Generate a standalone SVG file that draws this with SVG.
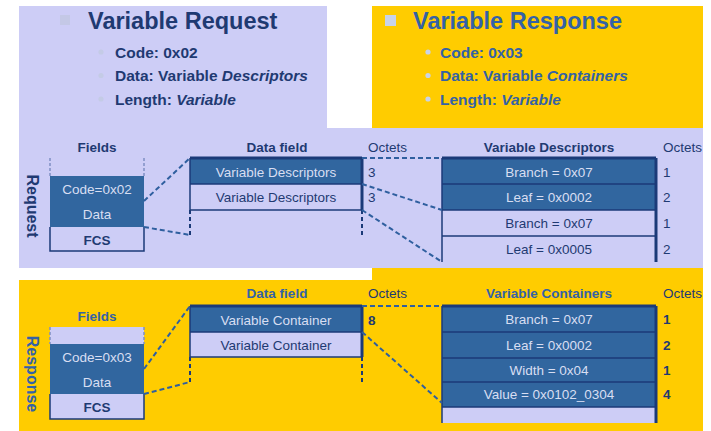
<svg xmlns="http://www.w3.org/2000/svg" width="711" height="431" viewBox="0 0 711 431">
  <style>
    text { font-family: "Liberation Sans", Arial, sans-serif; }
    .title { font-size: 23.5px; font-weight: bold; }
    .bul { font-size: 15.5px; font-weight: bold; }
    .hdr { font-size: 13.5px; font-weight: bold; text-anchor: middle; }
    .oct { font-size: 13.5px; }
    .cell { font-size: 13.5px; text-anchor: middle; }
    .side { font-size: 16px; font-weight: bold; text-anchor: middle; }
    .navy { fill: #1f3a72; }
    .mid { fill: #3462a6; }
    .lite { fill: #d8def2; }
    .dark { fill: #31669f; }
    .lav { fill: #cdcdf6; }
    .edge { stroke: #1b3a78; stroke-width: 1.5; fill: none; }
    .thick { stroke: #1b3a78; stroke-width: 3; fill: none; }
    .dash { stroke: #1b3a78; stroke-width: 2; stroke-dasharray: 4 3; fill: none; }
    .sdash { stroke: #7f8fc4; stroke-width: 1.5; stroke-dasharray: 3 2; fill: none; }
    .conn { stroke: #2f5f9f; stroke-width: 2; stroke-dasharray: 5 3; fill: none; }
  </style>

  <!-- backgrounds -->
  <rect x="0" y="0" width="711" height="431" fill="#ffffff"/>
  <rect x="372" y="6" width="331" height="425" fill="#ffcc00"/>
  <rect x="19" y="280" width="684" height="151" fill="#ffcc00"/>
  <rect x="19" y="6" width="308" height="122" class="lav"/>
  <rect x="19" y="128" width="684" height="140" class="lav"/>

  <!-- request summary -->
  <g id="request-summary">
    <rect x="60" y="15" width="10" height="10" fill="#c4c8e6"/>
    <text x="88" y="28.5" class="title navy">Variable Request</text>
    <circle cx="101" cy="52" r="2.6" fill="#c4cbe6"/>
    <circle cx="101" cy="75.5" r="2.6" fill="#c4cbe6"/>
    <circle cx="101" cy="99" r="2.6" fill="#c4cbe6"/>
    <text x="115" y="57.5" class="bul navy">Code: 0x02</text>
    <text x="115" y="81" class="bul navy">Data: Variable <tspan font-style="italic">Descriptors</tspan></text>
    <text x="115" y="104.5" class="bul navy">Length: <tspan font-style="italic">Variable</tspan></text>
  </g>

  <!-- response summary -->
  <g id="response-summary">
    <rect x="385" y="15" width="11" height="11" fill="#c8d3ea"/>
    <text x="413" y="28.5" class="title mid">Variable Response</text>
    <circle cx="428" cy="52" r="2.6" fill="#c8d3ea"/>
    <circle cx="428" cy="75.5" r="2.6" fill="#c8d3ea"/>
    <circle cx="428" cy="99" r="2.6" fill="#c8d3ea"/>
    <text x="440" y="57.5" class="bul mid">Code: 0x03</text>
    <text x="440" y="81" class="bul mid">Data: Variable <tspan font-style="italic">Containers</tspan></text>
    <text x="440" y="104.5" class="bul mid">Length: <tspan font-style="italic">Variable</tspan></text>
  </g>

  <!-- request frame -->
  <g id="request-fields">
    <text x="32" y="206" class="side navy" transform="rotate(90 32 206)" dy="5.5">Request</text>
    <text x="97" y="152" class="hdr navy">Fields</text>
    <line x1="50" y1="158" x2="50" y2="176" class="sdash"/>
    <line x1="144" y1="158" x2="144" y2="176" class="sdash"/>
    <rect x="50" y="176" width="94" height="51" class="dark"/>
    <rect x="50" y="227" width="94" height="24" class="lav"/>
    <path d="M50 227 V251 H144 V227" class="edge"/>
    <text x="97" y="194" class="cell lite">Code=0x02</text>
    <text x="97" y="219" class="cell lite">Data</text>
    <text x="97" y="245" class="cell navy" font-weight="bold">FCS</text>
  </g>

  <g id="request-data-field">
    <text x="277" y="152" class="hdr navy">Data field</text>
    <rect x="190" y="158" width="172" height="26" class="dark"/>
    <line x1="190" y1="184" x2="362" y2="184" class="edge"/>
    <line x1="190" y1="210" x2="362" y2="210" class="edge"/>
    <line x1="190" y1="158" x2="362" y2="158" class="thick"/>
    <line x1="190" y1="158" x2="190" y2="210" class="edge"/>
    <line x1="362" y1="158" x2="362" y2="210" class="thick"/>
    <line x1="190" y1="210" x2="190" y2="235" class="dash"/>
    <line x1="362" y1="210" x2="362" y2="235" class="dash"/>
    <text x="276" y="176.5" class="cell lite">Variable Descriptors</text>
    <text x="276" y="202" class="cell navy">Variable Descriptors</text>
    <text x="368" y="152" class="oct navy">Octets</text>
    <text x="368" y="176.5" class="oct navy">3</text>
    <text x="368" y="202" class="oct navy">3</text>
  </g>

  <g id="request-descriptors">
    <text x="549" y="152" class="hdr navy">Variable Descriptors</text>
    <rect x="442" y="158" width="214" height="52" class="dark"/>
    <line x1="442" y1="184" x2="656" y2="184" class="edge"/>
    <line x1="442" y1="210" x2="656" y2="210" class="edge"/>
    <line x1="442" y1="236" x2="656" y2="236" class="edge"/>
    <line x1="442" y1="158" x2="656" y2="158" class="thick"/>
    <line x1="442" y1="158" x2="442" y2="262" class="edge"/>
    <line x1="656" y1="158" x2="656" y2="262" class="thick"/>
    <text x="549" y="176.5" class="cell lite">Branch = 0x07</text>
    <text x="549" y="202" class="cell lite">Leaf = 0x0002</text>
    <text x="549" y="228" class="cell navy">Branch = 0x07</text>
    <text x="549" y="254" class="cell navy">Leaf = 0x0005</text>
    <text x="663" y="152" class="oct navy">Octets</text>
    <text x="663" y="176.5" class="oct navy">1</text>
    <text x="663" y="202" class="oct navy">2</text>
    <text x="663" y="228" class="oct navy">1</text>
    <text x="663" y="254" class="oct navy">2</text>
  </g>

  <!-- response frame -->
  <g id="response-fields">
    <text x="32" y="374" class="side mid" transform="rotate(90 32 374)" dy="5.5">Response</text>
    <text x="97" y="321" class="hdr mid">Fields</text>
    <rect x="50" y="327" width="94" height="17" class="lav"/>
    <line x1="50" y1="327" x2="50" y2="344" class="sdash"/>
    <line x1="144" y1="327" x2="144" y2="344" class="sdash"/>
    <rect x="50" y="344" width="94" height="50" class="dark"/>
    <rect x="50" y="394" width="94" height="25" class="lav"/>
    <path d="M50 394 V419 H144 V394" class="edge"/>
    <text x="97" y="362" class="cell lite">Code=0x03</text>
    <text x="97" y="387" class="cell lite">Data</text>
    <text x="97" y="412" class="cell navy" font-weight="bold">FCS</text>
  </g>

  <g id="response-data-field">
    <text x="277" y="298" class="hdr mid">Data field</text>
    <rect x="190" y="306" width="172" height="26" class="dark"/>
    <rect x="190" y="332" width="172" height="25" class="lav"/>
    <line x1="190" y1="332" x2="362" y2="332" class="edge"/>
    <line x1="190" y1="357" x2="362" y2="357" class="edge"/>
    <line x1="190" y1="306" x2="362" y2="306" class="thick"/>
    <line x1="190" y1="306" x2="190" y2="357" class="edge"/>
    <line x1="362" y1="306" x2="362" y2="357" class="thick"/>
    <line x1="190" y1="357" x2="190" y2="382" class="dash"/>
    <line x1="362" y1="357" x2="362" y2="382" class="dash"/>
    <text x="276" y="324.5" class="cell lite">Variable Container</text>
    <text x="276" y="349.5" class="cell navy">Variable Container</text>
    <text x="368" y="298" class="oct navy">Octets</text>
    <text x="368" y="324.5" class="oct navy" font-weight="bold">8</text>
  </g>

  <g id="response-containers">
    <text x="549" y="298" class="hdr mid">Variable Containers</text>
    <rect x="442" y="306" width="214" height="101" class="dark"/>
    <rect x="442" y="407" width="214" height="16" class="lav"/>
    <line x1="442" y1="332" x2="656" y2="332" class="edge"/>
    <line x1="442" y1="358" x2="656" y2="358" class="edge"/>
    <line x1="442" y1="382" x2="656" y2="382" class="edge"/>
    <line x1="442" y1="407" x2="656" y2="407" class="edge"/>
    <line x1="442" y1="306" x2="656" y2="306" class="thick"/>
    <line x1="442" y1="306" x2="442" y2="423" class="edge"/>
    <line x1="656" y1="306" x2="656" y2="423" class="thick"/>
    <text x="549" y="324" class="cell lite">Branch = 0x07</text>
    <text x="549" y="350" class="cell lite">Leaf = 0x0002</text>
    <text x="549" y="375" class="cell lite">Width = 0x04</text>
    <text x="549" y="399" class="cell lite">Value = 0x0102_0304</text>
    <text x="663" y="298" class="oct navy">Octets</text>
    <text x="663" y="324" class="oct navy" font-weight="bold">1</text>
    <text x="663" y="350" class="oct navy" font-weight="bold">2</text>
    <text x="663" y="375" class="oct navy" font-weight="bold">1</text>
    <text x="663" y="399" class="oct navy" font-weight="bold">4</text>
  </g>

  <!-- connectors -->
  <g id="connectors">
    <line x1="144" y1="201" x2="190" y2="158" class="conn"/>
    <line x1="144" y1="227" x2="190" y2="235" class="conn"/>
    <line x1="362" y1="158" x2="442" y2="158" class="conn"/>
    <line x1="362" y1="184" x2="442" y2="210" class="conn"/>
    <line x1="362" y1="210" x2="442" y2="262" class="conn"/>
    <line x1="144" y1="369" x2="190" y2="306" class="conn"/>
    <line x1="144" y1="394" x2="190" y2="382" class="conn"/>
    <line x1="362" y1="306" x2="442" y2="306" class="conn"/>
    <line x1="362" y1="332" x2="442" y2="403" class="conn"/>
  </g>
</svg>
